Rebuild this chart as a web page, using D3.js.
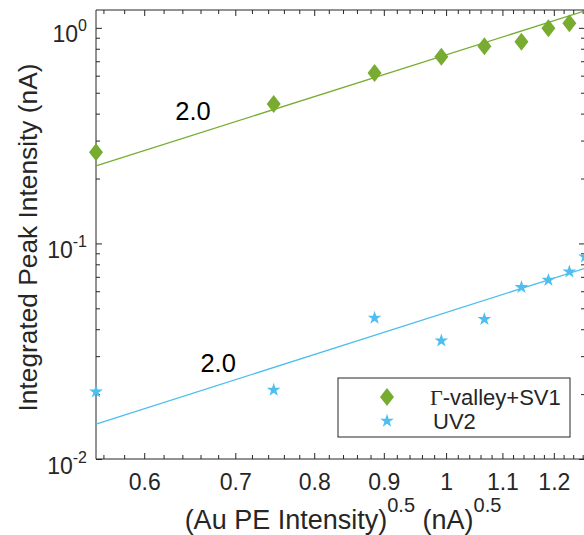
<!DOCTYPE html>
<html>
<head>
<meta charset="utf-8">
<script src="https://cdn.jsdelivr.net/npm/d3@7"></script>
<style>
  body { margin: 0; background: #fff; }
  text { font-family: "Liberation Sans", Arial, Helvetica, sans-serif; fill: #262626; }
</style>
</head>
<body>
<div id="chart"></div>
<script>
// x = (Au PE intensity)^0.5, both series measured at the same points
var peX = [0.553, 0.747, 0.886, 0.992, 1.067, 1.136, 1.189, 1.232, 1.265];
var gammaY = [0.265, 0.443, 0.617, 0.734, 0.822, 0.861, 0.997, 1.051];
var uvY = [0.0205, 0.0209, 0.0451, 0.0354, 0.0445, 0.0626, 0.0676, 0.0739, 0.0867];

// power-law fits (slope 2.0 on log-log), endpoints
var gammaFit = [[0.553, 0.229], [1.265, 1.2]];
var uvFit = [[0.553, 0.01452], [1.265, 0.0767]];
var slopeLabels = ["2.0", "2.0"];

var xTicks = [0.6, 0.7, 0.8, 0.9, 1, 1.1, 1.2],
    xTickLabels = ["0.6", "0.7", "0.8", "0.9", "1", "1.1", "1.2"],
    yTicks = [0.01, 0.1, 1],
    yTickExp = ["-2", "-1", "0"];

var seriesNames = ["\u0393-valley+SV1", "UV2"];
var green = "#77AC30", blue = "#4DBEEE", ink = "#262626";

var W = 584, H = 535;
var margin = {top: 10, right: -1, bottom: 76, left: 96},
    width = W - margin.left - margin.right,
    height = H - margin.top - margin.bottom;

var x = d3.scaleLog().domain([0.553, 1.265]).range([0, width]);
var y = d3.scaleLog().domain([0.01, 1.21]).range([height, 0]);

var xMinor = d3.range(0.56, 1.265, 0.02).filter(function(v) {
  return xTicks.every(function(t) { return Math.abs(t - v) > 1e-6; });
});
var yMinor = [];
[0.01, 0.1].forEach(function(d) { for (var k = 2; k <= 9; k++) yMinor.push(d * k); });

var svg = d3.select("#chart").append("svg")
    .attr("width", W)
    .attr("height", H)
  .append("g")
    .attr("transform", "translate(" + margin.left + "," + margin.top + ")");

function styleAxis(g) {
  g.select(".domain").remove();
  g.selectAll(".tick line").attr("stroke", ink).attr("stroke-width", 1);
}

// minor ticks on all four sides
svg.append("g").attr("transform", "translate(0," + height + ")")
    .call(d3.axisBottom(x).tickValues(xMinor).tickSize(-4).tickFormat("")).call(styleAxis);
svg.append("g")
    .call(d3.axisTop(x).tickValues(xMinor).tickSize(-4).tickFormat("")).call(styleAxis);
svg.append("g")
    .call(d3.axisLeft(y).tickValues(yMinor).tickSize(-4).tickFormat("")).call(styleAxis);
svg.append("g").attr("transform", "translate(" + width + ",0)")
    .call(d3.axisRight(y).tickValues(yMinor).tickSize(-4).tickFormat("")).call(styleAxis);

// major ticks
var xAxis = svg.append("g").attr("transform", "translate(0," + height + ")")
    .call(d3.axisBottom(x).tickValues(xTicks).tickSize(-6).tickPadding(15)
      .tickFormat(function(d, i) { return xTickLabels[i]; }))
    .call(styleAxis);
xAxis.selectAll("text").attr("font-size", 23).attr("fill", ink)
    .style("font-family", "'Liberation Sans', Arial, sans-serif");
svg.append("g")
    .call(d3.axisTop(x).tickValues(xTicks).tickSize(-6).tickFormat("")).call(styleAxis);

var yAxis = svg.append("g")
    .call(d3.axisLeft(y).tickValues(yTicks).tickSize(-6).tickFormat("")).call(styleAxis);
svg.append("g").attr("transform", "translate(" + width + ",0)")
    .call(d3.axisRight(y).tickValues(yTicks).tickSize(-6).tickFormat("")).call(styleAxis);

yAxis.selectAll(".tick").each(function(d, i) {
  var t = d3.select(this).append("text")
      .attr("text-anchor", "end")
      .attr("x", -9)
      .attr("y", 14)
      .attr("font-size", 23);
  t.append("tspan").text("10");
  t.append("tspan").attr("font-size", 16).attr("dy", -11).text(yTickExp[i]);
});

// box
svg.append("path")
    .attr("d", "M0,0H" + width + "V" + height + "H0Z")
    .attr("fill", "none")
    .attr("stroke", ink)
    .attr("stroke-width", 1);

// fit lines
var line = d3.line()
    .x(function(d) { return x(d[0]); })
    .y(function(d) { return y(d[1]); });

svg.append("path").datum(gammaFit)
    .attr("d", line).attr("fill", "none").attr("stroke", green).attr("stroke-width", 1.3);
svg.append("path").datum(uvFit)
    .attr("d", line).attr("fill", "none").attr("stroke", blue).attr("stroke-width", 1.3);

// markers
var diamond = "M0,-9L7,0L0,9L-7,0Z";
var star = d3.symbol().type(d3.symbolStar).size(58);

svg.selectAll(".gamma").data(gammaY).enter().append("path")
    .attr("class", "gamma")
    .attr("d", diamond)
    .attr("fill", green)
    .attr("transform", function(d, i) { return "translate(" + x(peX[i]) + "," + y(d) + ")"; });

svg.selectAll(".uv").data(uvY).enter().append("path")
    .attr("class", "uv")
    .attr("d", star)
    .attr("fill", blue)
    .attr("transform", function(d, i) { return "translate(" + x(peX[i]) + "," + y(d) + ")"; });

// slope annotations
svg.append("text")
    .attr("x", x(0.6516)).attr("y", y(0.373))
    .attr("text-anchor", "middle").attr("font-size", 25.5)
    .style("fill", "#000")
    .text(slopeLabels[0]);
svg.append("text")
    .attr("x", x(0.680)).attr("y", y(0.0253))
    .attr("text-anchor", "middle").attr("font-size", 25.5)
    .style("fill", "#000")
    .text(slopeLabels[1]);

// legend
var legend = svg.append("g").attr("transform", "translate(" + (338 - margin.left) + "," + (378 - margin.top) + ")");
legend.append("rect")
    .attr("width", 232).attr("height", 59)
    .attr("fill", "#fff").attr("stroke", ink).attr("stroke-width", 1);
legend.append("path").attr("d", diamond).attr("fill", green)
    .attr("transform", "translate(49,19)");
legend.append("path").attr("d", star).attr("fill", blue)
    .attr("transform", "translate(49,43)");
var l1 = legend.append("text").attr("x", 92).attr("y", 27).attr("font-size", 22);
l1.append("tspan").style("font-family", "'Liberation Serif', 'Times New Roman', serif").text(seriesNames[0].charAt(0));
l1.append("tspan").text(seriesNames[0].slice(1));
legend.append("text").attr("x", 95).attr("y", 51).attr("font-size", 22).text(seriesNames[1]);

// axis labels
var xl = svg.append("text")
    .attr("x", (183 + 503) / 2 - margin.left)
    .attr("y", 529 - margin.top)
    .attr("text-anchor", "middle")
    .attr("font-size", 27);
xl.append("tspan").text("(Au PE Intensity)");
xl.append("tspan").attr("font-size", 20).attr("dy", -17).text("0.5");
xl.append("tspan").attr("dy", 17).text(" (nA)");
xl.append("tspan").attr("font-size", 20).attr("dy", -17).text("0.5");

svg.append("text")
    .attr("transform", "translate(" + (37 - margin.left) + "," + (237.5 - margin.top) + ") rotate(-90)")
    .attr("text-anchor", "middle")
    .attr("font-size", 26.3)
    .text("Integrated Peak Intensity (nA)");
</script>
</body>
</html>
